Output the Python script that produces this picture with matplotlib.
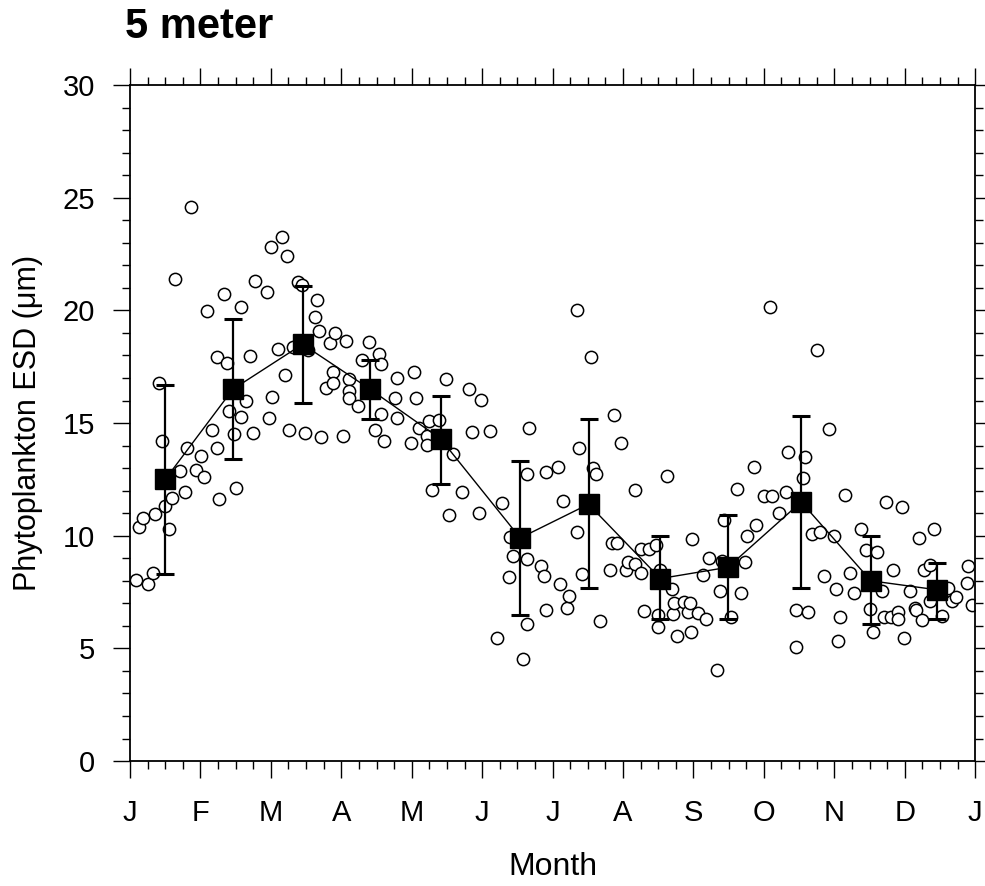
import numpy as np
import matplotlib.pyplot as plt
from matplotlib.ticker import MultipleLocator

plt.rcParams['font.family'] = ['Liberation Sans', 'DejaVu Sans']

# individual samples: position in months (0 = start of Jan) and ESD (um)
sample_month = [0.08, 0.26, 0.32, 0.13, 0.19, 0.36, 0.49, 0.55, 0.59, 0.41, 0.45, 0.64, 0.71, 0.78, 0.81, 0.86, 0.94,
                1.01, 1.05, 1.10, 1.17, 1.23, 1.24, 1.27, 1.34, 1.37, 1.40, 1.48, 1.51, 1.57, 1.57, 1.64, 1.70, 1.74, 1.77, 1.94, 1.97,
                2.00, 2.01, 2.10, 2.16, 2.20, 2.23, 2.26, 2.32, 2.38, 2.44, 2.49, 2.53, 2.62, 2.65, 2.69, 2.71, 2.78, 2.84, 2.88, 2.88, 2.91,
                3.02, 3.06, 3.11, 3.11, 3.11, 3.23, 3.30, 3.40, 3.48, 3.53, 3.57, 3.57, 3.60, 3.76, 3.79, 3.79, 3.99,
                4.03, 4.06, 4.10, 4.22, 4.22, 4.25, 4.29, 4.39, 4.49, 4.53, 4.59, 4.72, 4.82, 4.86, 4.95, 4.98,
                5.11, 5.21, 5.28, 5.38, 5.40, 5.44, 5.58, 5.64, 5.64, 5.64, 5.67, 5.84, 5.88, 5.91, 5.91,
                6.08, 6.11, 6.15, 6.21, 6.24, 6.34, 6.35, 6.38, 6.42, 6.54, 6.58, 6.61, 6.68, 6.81, 6.84, 6.87, 6.91, 6.97,
                7.04, 7.07, 7.17, 7.17, 7.25, 7.26, 7.30, 7.37, 7.47, 7.49, 7.50, 7.52, 7.62, 7.70, 7.71, 7.72, 7.76, 7.86, 7.92, 7.95, 7.96, 7.98,
                8.07, 8.14, 8.18, 8.22, 8.34, 8.38, 8.41, 8.43, 8.54, 8.62, 8.67, 8.73, 8.76, 8.86, 8.89, 9.00,
                9.08, 9.12, 9.22, 9.31, 9.34, 9.46, 9.46, 9.55, 9.59, 9.63, 9.69, 9.75, 9.79, 9.86, 9.92, 9.99,
                10.02, 10.05, 10.08, 10.15, 10.22, 10.28, 10.38, 10.45, 10.51, 10.55, 10.61, 10.68, 10.71, 10.73, 10.80, 10.84, 10.90, 10.90, 10.96, 10.99,
                11.07, 11.14, 11.16, 11.20, 11.24, 11.28, 11.36, 11.36, 11.42, 11.53, 11.62, 11.67, 11.73, 11.89, 11.90, 11.96]
sample_esd = [8.05, 7.84, 8.34, 10.40, 10.77, 10.96, 11.30, 10.32, 11.68, 16.78, 14.22, 21.39, 12.89, 11.95, 13.88, 24.57, 12.92,
              13.53, 12.60, 19.99, 14.68, 17.93, 13.88, 11.61, 20.72, 17.68, 15.52, 14.52, 12.11, 20.16, 15.28, 15.98, 17.99, 14.56, 21.31, 20.81, 15.21,
              22.82, 16.14, 18.30, 23.27, 17.15, 22.43, 14.68, 18.37, 21.28, 21.13, 14.56, 18.25, 19.72, 20.47, 19.10, 14.38, 16.56, 18.56, 17.25, 16.78, 18.99,
              14.44, 18.64, 16.97, 16.41, 16.12, 15.77, 17.81, 18.58, 14.70, 18.08, 17.62, 15.41, 14.22, 16.13, 17.00, 15.23, 14.13,
              17.25, 16.13, 14.77, 14.44, 14.04, 15.11, 12.05, 15.15, 16.97, 10.92, 13.61, 11.96, 16.53, 14.62, 11.01, 16.03,
              14.63, 5.48, 11.46, 8.17, 9.94, 9.10, 4.52, 8.95, 6.10, 12.76, 14.80, 8.65, 8.21, 6.69, 12.83,
              13.05, 7.88, 11.52, 6.81, 7.33, 20.00, 10.16, 13.90, 8.32, 17.93, 13.01, 12.72, 6.22, 8.49, 9.66, 15.34, 9.68, 14.12,
              8.49, 8.83, 8.73, 12.01, 9.39, 8.33, 6.66, 9.39, 9.58, 5.94, 6.50, 8.48, 12.66, 7.62, 6.54, 7.03, 5.55, 7.06, 6.63, 7.03, 5.73, 9.84,
              6.57, 8.25, 6.29, 8.99, 4.05, 7.55, 8.87, 10.72, 6.41, 12.08, 7.47, 8.83, 9.98, 13.04, 10.47, 11.76,
              20.13, 11.76, 10.99, 11.95, 13.71, 6.69, 5.06, 12.54, 13.48, 6.63, 10.07, 18.24, 10.16, 8.21, 14.74, 10.00,
              7.65, 5.32, 6.39, 11.79, 8.33, 7.47, 10.32, 9.35, 6.76, 5.75, 9.29, 7.55, 6.39, 11.48, 6.38, 8.46, 6.60, 6.32, 11.28, 5.48,
              7.55, 6.81, 6.69, 9.89, 6.25, 8.48, 8.71, 7.10, 10.28, 6.44, 7.70, 7.10, 7.29, 7.90, 8.65, 6.91]

# monthly means with error bar ends
mean_month = [0.50, 1.46, 2.45, 3.41, 4.41, 5.54, 6.51, 7.53, 8.49, 9.53, 10.52, 11.46]
mean_esd = [12.5, 16.5, 18.5, 16.5, 14.3, 9.9, 11.4, 8.1, 8.6, 11.5, 8.0, 7.6]
err_top = [16.7, 19.6, 21.1, 17.8, 16.2, 13.3, 15.2, 10.0, 10.9, 15.3, 10.0, 8.8]
err_bottom = [8.3, 13.4, 15.9, 15.2, 12.3, 6.5, 7.7, 6.3, 6.3, 7.7, 6.1, 6.3]

month_labels = ['J', 'F', 'M', 'A', 'M', 'J', 'J', 'A', 'S', 'O', 'N', 'D', 'J']

fig = plt.figure(figsize=(9.85, 8.86), dpi=100)
ax = fig.add_axes([0.132, 0.141, 0.858, 0.763])

ax.scatter(sample_month, sample_esd, s=78, facecolors='white', edgecolors='black',
           linewidths=1.1, zorder=2)

lower = np.array(mean_esd) - np.array(err_bottom)
upper = np.array(err_top) - np.array(mean_esd)
ax.errorbar(mean_month, mean_esd, yerr=[lower, upper], fmt='s-', color='black',
            ms=14, lw=1, elinewidth=1.6, capsize=6.5, capthick=2.2, zorder=3)

ax.set_xlim(0, 12)
ax.set_ylim(0, 30)
ax.set_xticks(range(13))
ax.set_xticklabels(month_labels)
ax.xaxis.set_minor_locator(MultipleLocator(0.25))
ax.set_yticks(range(0, 31, 5))
ax.yaxis.set_minor_locator(MultipleLocator(1))

ax.tick_params(which='both', direction='out', top=True, right=True, width=1, labelsize=21)
ax.tick_params(axis='x', which='both', pad=15)
ax.tick_params(axis='y', which='both', pad=13)
ax.tick_params(which='major', length=12)
ax.tick_params(which='minor', length=6)
for sp in ax.spines.values():
    sp.set_linewidth(1.3)

ax.set_xlabel('Month', fontsize=23, labelpad=18)
ax.set_ylabel('Phytoplankton ESD (\u03bcm)', fontsize=22, labelpad=14)
fig.text(0.127, 0.970, '5 meter', fontsize=30, fontweight='bold', va='center', ha='left')

plt.savefig('out.png', dpi=100)
